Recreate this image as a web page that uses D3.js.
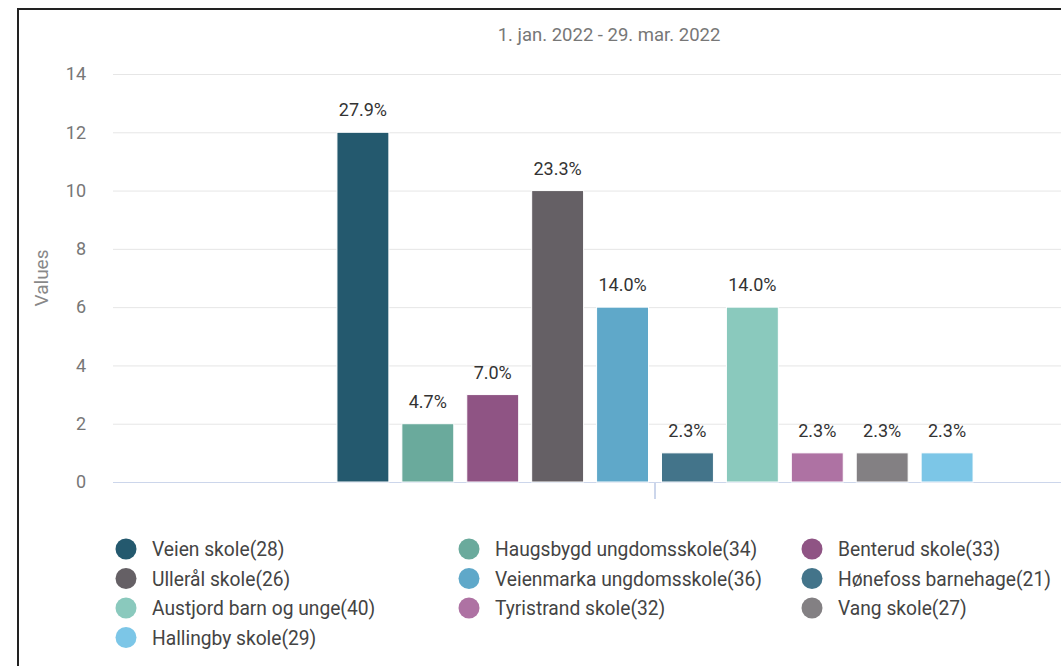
<!DOCTYPE html>
<html><head><meta charset="utf-8">
<script src="https://cdn.jsdelivr.net/npm/d3@7"></script>
<style>
html,body{margin:0;padding:0;background:#fff;overflow:hidden}
svg{display:block;font-family:Roboto,"Noto Sans",sans-serif}
</style></head>
<body>
<svg id="chart" width="1061" height="666"></svg>
<script>
const title = "1. jan. 2022 - 29. mar. 2022";
const categories = ["Veien skole(28)","Haugsbygd ungdomsskole(34)","Benterud skole(33)","Ullerål skole(26)","Veienmarka ungdomsskole(36)","Hønefoss barnehage(21)","Austjord barn og unge(40)","Tyristrand skole(32)","Vang skole(27)","Hallingby skole(29)"];
const values = [12,2,3,10,6,1,6,1,1,1];
const percentLabels = ["27.9%","4.7%","7.0%","23.3%","14.0%","2.3%","14.0%","2.3%","2.3%","2.3%"];
const colors = ["#24596e","#6aaa9c","#8f5484","#656065","#5fa8c9","#43748a","#8ac9bd","#ae72a3","#838083","#7cc6e7"];
const yTicks = [0,2,4,6,8,10,12,14];
const yTitle = "Values";

const svg = d3.select("#chart");
const plotL = 113, plotR = 1197, plotT = 74, plotB = 482;

const y = d3.scaleLinear().domain([0,14]).range([plotB, plotT]);
const x0 = d3.scaleBand().domain([title]).range([plotL, plotR]).paddingInner(0).paddingOuter(0.335);
const x1 = d3.scaleBand().domain(categories).range([0, x0.bandwidth()]).paddingInner(0.2).paddingOuter(0.1);

// frame border
svg.append("line").attr("x1",18).attr("x2",18).attr("y1",8).attr("y2",666).attr("stroke","#222").attr("stroke-width",2);
svg.append("line").attr("x1",17).attr("x2",1061).attr("y1",9).attr("y2",9).attr("stroke","#222").attr("stroke-width",2);

// title
svg.append("text").attr("x",609).attr("y",41).attr("text-anchor","middle")
  .attr("font-size",18.5).attr("fill","#777").text(title);

// gridlines
const yAxis = d3.axisLeft(y).tickValues(yTicks).tickSize(-(plotR-plotL)).tickPadding(27);
const gy = svg.append("g").attr("transform",`translate(${plotL},0)`).call(yAxis);
gy.select(".domain").remove();
gy.selectAll(".tick line").attr("stroke","#e6e6e6").attr("stroke-width",1);
gy.selectAll(".tick text").attr("font-size",18).attr("fill","#777").attr("font-family","Roboto");

// y title
svg.append("text").attr("transform",`translate(48,${(plotT+plotB)/2}) rotate(-90)`)
  .attr("text-anchor","middle").attr("font-size",19).attr("fill","#888").text(yTitle);

// x axis
const xAxis = d3.axisBottom(x0).tickSize(17).tickFormat("");
const gx = svg.append("g").attr("transform",`translate(0,${plotB})`).call(xAxis);
gx.select(".domain").attr("stroke","#ccd6eb").attr("d",`M${plotL},0.5H${plotR}`);
gx.selectAll(".tick line").attr("stroke","#ccd6eb").attr("stroke-width",2);

// bars
const g = svg.append("g").attr("transform",`translate(${x0(title)},0)`);
g.selectAll("rect").data(values).enter().append("rect")
  .attr("x",(d,i)=>x1(categories[i]))
  .attr("y",d=>y(d))
  .attr("width",x1.bandwidth())
  .attr("height",d=>plotB-y(d))
  .attr("fill",(d,i)=>colors[i])
  .attr("stroke","#fff").attr("stroke-width",1);

g.selectAll("text.lbl").data(values).enter().append("text").attr("class","lbl")
  .attr("x",(d,i)=>x1(categories[i])+x1.bandwidth()/2)
  .attr("y",d=>y(d)-16)
  .attr("text-anchor","middle").attr("font-size",18).attr("fill","#333")
  .text((d,i)=>percentLabels[i]);

// legend
const colX = [126,469,812];
const rowY0 = 549, rowH = 29.5;
const lg = svg.append("g");
categories.forEach((c,i)=>{
  const col = i%3, row = Math.floor(i/3);
  const cx = colX[col], cy = rowY0 + row*rowH;
  lg.append("circle").attr("cx",cx).attr("cy",cy).attr("r",10.5).attr("fill",colors[i]);
  const tx = cx + 26;
  lg.append("text").attr("x",tx).attr("y",cy+7.5).attr("font-size",21).attr("fill","#444")
    .attr("transform",`translate(${tx},0) scale(0.915,1) translate(${-tx},0)`)
    .text(c);
});
</script>
</body></html>
